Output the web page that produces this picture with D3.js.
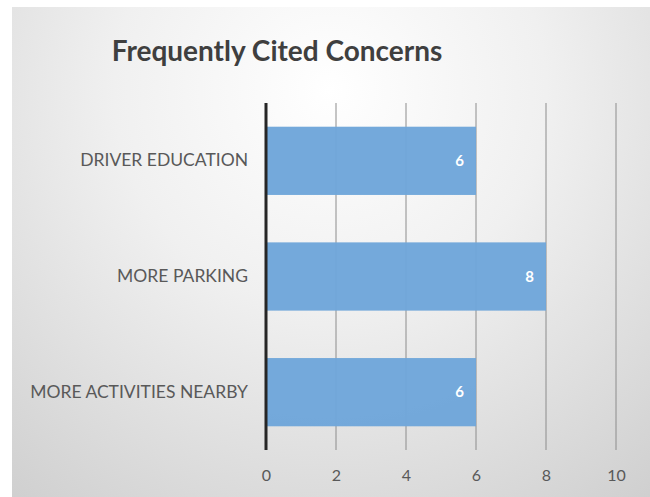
<!DOCTYPE html>
<html>
<head>
<meta charset="utf-8">
<script src="https://cdn.jsdelivr.net/npm/d3@7"></script>
<style>
  body { margin: 0; background: #fff; }
  svg { display: block; }
</style>
</head>
<body>
<script>
// chart size
const width = 650;
const height = 497;
const margin = {top: 103, right: 35, bottom: 47, left: 266};

// data
const categories = ["DRIVER EDUCATION", "MORE PARKING", "MORE ACTIVITIES NEARBY"];
const values = [6, 8, 6];
const xTicks = [0, 2, 4, 6, 8, 10];
const title = "Frequently Cited Concerns";

const data = categories.map((c, i) => ({name: c, value: values[i]}));

const x = d3.scaleLinear()
    .domain([0, 10])
    .range([margin.left, margin.left + 350]);

const y = d3.scaleBand()
    .domain(categories)
    .range([margin.top, height - margin.bottom])
    .paddingInner(0.41)
    .paddingOuter(0.205);

const svg = d3.select("body").append("svg")
    .attr("width", width)
    .attr("height", height);

// background gradient like the excel chart area
const defs = svg.append("defs");
const grad = defs.append("radialGradient")
    .attr("id", "bg")
    .attr("gradientUnits", "userSpaceOnUse")
    .attr("cx", 330).attr("cy", 90).attr("r", 540);
grad.append("stop").attr("offset", "0%").attr("stop-color", "#ffffff");
grad.append("stop").attr("offset", "40%").attr("stop-color", "#f0f0f0");
grad.append("stop").attr("offset", "100%").attr("stop-color", "#cdcdcd");

svg.append("rect")
    .attr("x", 12).attr("y", 7)
    .attr("width", width - 12).attr("height", height - 7)
    .attr("fill", "url(#bg)");

// title
svg.append("text")
    .attr("x", 277).attr("y", 61)
    .attr("text-anchor", "middle")
    .attr("font-family", "Lato, 'Open Sans', sans-serif")
    .attr("font-weight", "bold")
    .attr("font-size", 28)
    .attr("fill", "#3f3f3f")
    .text(title);

// gridlines
svg.append("g")
    .selectAll("line")
    .data(xTicks.slice(1))
    .join("line")
    .attr("x1", d => x(d)).attr("x2", d => x(d))
    .attr("y1", margin.top).attr("y2", height - margin.bottom)
    .attr("stroke", "#8c8c8c")
    .attr("stroke-width", 1);

// bars
svg.append("g")
    .selectAll("rect")
    .data(data)
    .join("rect")
    .attr("x", x(0))
    .attr("y", d => y(d.name))
    .attr("width", d => x(d.value) - x(0))
    .attr("height", y.bandwidth())
    .attr("fill", "#6fa6da")
    .attr("fill-opacity", 0.97);

// value labels
svg.append("g")
    .selectAll("text")
    .data(data)
    .join("text")
    .attr("x", d => x(d.value) - 12)
    .attr("y", d => y(d.name) + y.bandwidth() / 2)
    .attr("dy", "0.35em")
    .attr("text-anchor", "end")
    .attr("font-family", "Lato, sans-serif")
    .attr("font-weight", "bold")
    .attr("font-size", 15)
    .attr("fill", "#ffffff")
    .text(d => d.value);

// x axis
const xAxis = g => g
    .attr("transform", `translate(0,${height - margin.bottom})`)
    .call(d3.axisBottom(x).tickValues(xTicks).tickSize(0).tickPadding(20))
    .call(g => g.select(".domain").remove())
    .call(g => g.selectAll("text")
        .attr("font-family", "Lato, sans-serif")
        .attr("font-size", 16)
        .attr("fill", "#595959"));
svg.append("g").call(xAxis);

// y axis
const yAxis = g => g
    .attr("transform", `translate(${margin.left - 18},0)`)
    .call(d3.axisLeft(y).tickSize(0).tickPadding(0))
    .call(g => g.select(".domain").remove())
    .call(g => g.selectAll("text")
        .attr("font-family", "Lato, sans-serif")
        .attr("font-size", 17.5)
        .attr("fill", "#595959"));
svg.append("g").call(yAxis);

// dark zero line
svg.append("line")
    .attr("x1", x(0)).attr("x2", x(0))
    .attr("y1", margin.top).attr("y2", height - margin.bottom)
    .attr("stroke", "#262626")
    .attr("stroke-width", 3);
</script>
</body>
</html>
